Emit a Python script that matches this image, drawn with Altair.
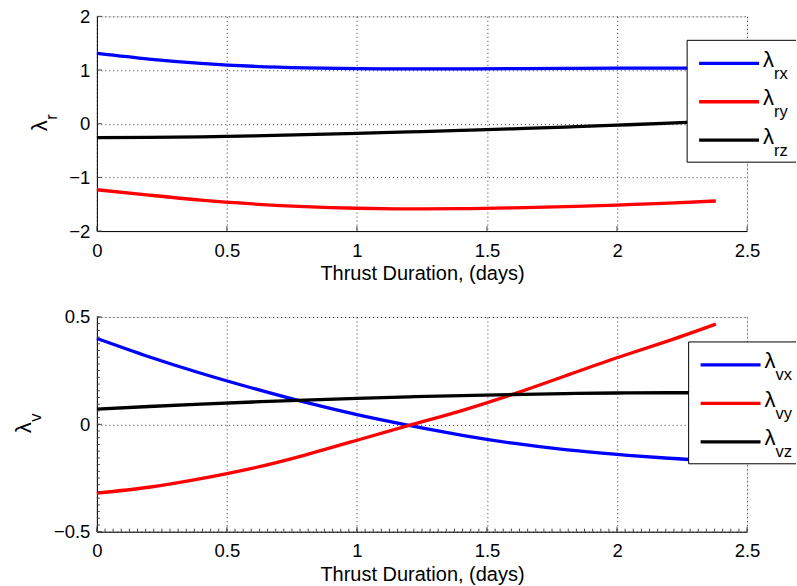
import altair as alt
import pandas as pd

# ---------------- data ----------------
t_days = [0.0, 0.2, 0.4, 0.6, 0.8, 1.0, 1.2, 1.4, 1.6, 1.8, 2.0, 2.2, 2.38]

lam_rx = [1.31, 1.205, 1.125, 1.07, 1.04, 1.025, 1.02, 1.022, 1.026, 1.03, 1.034, 1.036, 1.036]
lam_ry = [-1.23, -1.33, -1.425, -1.495, -1.545, -1.575, -1.587, -1.583, -1.568, -1.546, -1.515, -1.48, -1.44]
lam_rz = [-0.26, -0.255, -0.245, -0.228, -0.205, -0.18, -0.153, -0.125, -0.095, -0.062, -0.027, 0.012, 0.05]

lam_vx = [0.40, 0.315, 0.238, 0.168, 0.103, 0.045, -0.005, -0.05, -0.088, -0.118, -0.14, -0.158, -0.17]
lam_vy = [-0.32, -0.293, -0.253, -0.204, -0.143, -0.074, -0.005, 0.063, 0.14, 0.225, 0.31, 0.39, 0.467]
lam_vz = [0.071, 0.083, 0.094, 0.104, 0.113, 0.121, 0.128, 0.134, 0.139, 0.143, 0.146, 0.147, 0.147]

top_names = ["rx", "ry", "rz"]
bot_names = ["vx", "vy", "vz"]
colors = ["#0000ff", "#ff0000", "#000000"]

x_ticks = [0, 0.5, 1, 1.5, 2, 2.5]
top_y_ticks = [-2, -1, 0, 1, 2]
bot_y_ticks = [-0.5, 0, 0.5]
x_title = "Thrust Duration, (days)"

W, H = 651, 215
FONT = "Liberation Sans"


def long_df(names, series):
    rows = []
    for n, vals in zip(names, series):
        for tt, v in zip(t_days, vals):
            rows.append({"t": tt, "v": v, "s": n})
    return pd.DataFrame(rows)


def one():
    return pd.DataFrame({"o": [0]})


def panel(df, names, ydom, yticks, ysym, ytitle_pos, legend_pos, minor=False, marker_bottom=None):
    xs = alt.Scale(domain=[0, 2.5], nice=False, zero=False)
    ys = alt.Scale(domain=ydom, nice=False, zero=False)
    grid = dict(grid=True, gridDash=[1, 3], gridColor="#333333", gridWidth=1)
    xaxis = alt.Axis(values=x_ticks, format="~g", title=x_title, ticks=False, labelPadding=25,
                     labelBaseline="alphabetic", labelFlush=False, labelOverlap=False,
                     labelFont=FONT, labelFontSize=18.5, labelColor="black",
                     titleFont=FONT, titleFontSize=20, titleFontWeight="normal",
                     titleColor="black", titleY=48.4, titleBaseline="alphabetic",
                     domainColor="black", domainWidth=1, **grid)
    yaxis = alt.Axis(values=yticks, format="~g", title=None, ticks=False, labelPadding=7,
                     labelFlush=False, labelOverlap=False,
                     labelFont=FONT, labelFontSize=18.5, labelColor="black",
                     domainColor="black", domainWidth=1, **grid)

    layers = []
    lines = alt.Chart(df).mark_line(strokeWidth=3.3, interpolate="natural").encode(
        x=alt.X("t:Q", scale=xs, axis=xaxis),
        y=alt.Y("v:Q", scale=ys, axis=yaxis),
        color=alt.Color("s:N", scale=alt.Scale(domain=names, range=colors), legend=None),
    )
    layers.append(lines)

    # inward major ticks
    xt = pd.DataFrame({"t": x_ticks})
    layers.append(alt.Chart(xt).mark_rule(color="#444444").encode(
        x=alt.X("t:Q", scale=xs), y=alt.value(H), y2=alt.value(H - 5)))
    yt = pd.DataFrame({"v": yticks})
    layers.append(alt.Chart(yt).mark_rule(color="#444444").encode(
        y=alt.Y("v:Q", scale=ys), x=alt.value(0), x2=alt.value(5)))

    if minor:
        xm = pd.DataFrame({"t": [i * 0.5 / 16 for i in range(81)]})
        layers.append(alt.Chart(xm).mark_rule(color="#444444").encode(
            x=alt.X("t:Q", scale=xs), y=alt.value(H), y2=alt.value(H - 3)))
        ym = pd.DataFrame({"v": [ydom[0] + i * 0.5 / 16 for i in range(33)]})
        layers.append(alt.Chart(ym).mark_rule(color="#444444").encode(
            y=alt.Y("v:Q", scale=ys), x=alt.value(0), x2=alt.value(3)))

    # legend box
    lx0, lx1, ly0, ly1 = legend_pos
    layers.append(alt.Chart(one()).mark_rect(fill="white").encode(
        x=alt.value(lx0), x2=alt.value(lx1), y=alt.value(ly0), y2=alt.value(ly1)))
    for a, b, c, d in [(lx0, lx1, ly0, ly0), (lx0, lx1, ly1, ly1), (lx0, lx0, ly0, ly1)]:
        layers.append(alt.Chart(one()).mark_rule(color="black", strokeWidth=1).encode(
            x=alt.value(a), x2=alt.value(b), y=alt.value(c), y2=alt.value(d)))
    for i, (n, c) in enumerate(zip(names, colors)):
        yy = ly0 + 23 + 38.5 * i
        layers.append(alt.Chart(one()).mark_rule(color=c, strokeWidth=3.3).encode(
            x=alt.value(lx0 + 12), x2=alt.value(lx0 + 72), y=alt.value(yy)))
        layers.append(alt.Chart(one()).mark_text(
            text="λ", font=FONT, fontSize=22, align="left", baseline="alphabetic", color="black"
        ).encode(x=alt.value(lx0 + 76), y=alt.value(yy + 3.5)))
        layers.append(alt.Chart(one()).mark_text(
            text=n, font=FONT, fontSize=16.5, align="left", baseline="alphabetic", color="black"
        ).encode(x=alt.value(lx0 + 87), y=alt.value(yy + 15.5)))

    # y title  (lambda with subscript)
    bx, by, sx, sy = ytitle_pos
    layers.append(alt.Chart(one()).mark_text(
        text="λ", font=FONT, fontSize=22, angle=270, align="left", baseline="alphabetic", color="black"
    ).encode(x=alt.value(bx), y=alt.value(by)))
    layers.append(alt.Chart(one()).mark_text(
        text=ysym, font=FONT, fontSize=16.5, angle=270, align="left", baseline="alphabetic", color="black"
    ).encode(x=alt.value(sx), y=alt.value(sy)))

    # invisible layout markers (fix bounds)
    layers.append(alt.Chart(one()).mark_rule(opacity=0).encode(
        x=alt.value(-92), x2=alt.value(-91), y=alt.value(-10), y2=alt.value(-9)))
    if marker_bottom is not None:
        layers.append(alt.Chart(one()).mark_rule(opacity=0).encode(
            x=alt.value(-92), x2=alt.value(-91), y=alt.value(marker_bottom), y2=alt.value(marker_bottom - 1)))

    return alt.layer(*layers).properties(width=W, height=H)


top = panel(long_df(top_names, [lam_rx, lam_ry, lam_rz]), top_names, [-2, 2], top_y_ticks,
            "r", (-50, 115, -40, 103.5), (591, 700, 24, 146), minor=False, marker_bottom=H + 60)
bot = panel(long_df(bot_names, [lam_vx, lam_vy, lam_vz]), bot_names, [-0.5, 0.5], bot_y_ticks,
            "v", (-66, 116.5, -56, 105), (592.5, 700, 25, 147), minor=True)

chart = alt.vconcat(top, bot, spacing=14).properties(
    padding={"left": 4, "top": 5, "right": 0, "bottom": 0}
).configure_view(stroke=None).configure(background="white")

chart.save("out.html", embed_options={"renderer": "svg", "actions": False})
